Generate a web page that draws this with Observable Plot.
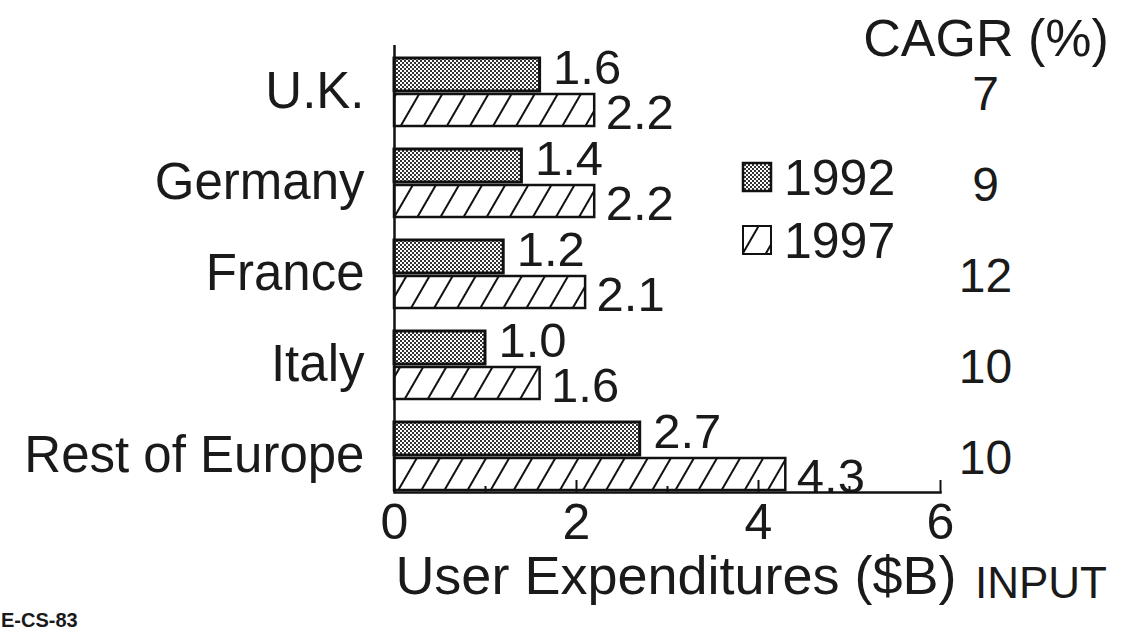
<!DOCTYPE html>
<html><head><meta charset="utf-8">
<script src="https://cdn.jsdelivr.net/npm/d3@7"></script>
<script src="https://cdn.jsdelivr.net/npm/@observablehq/plot@0.6"></script>
<style>
body{margin:0;background:#fff;}
#wrap{position:relative;width:1145px;height:633px;overflow:hidden;}
</style></head><body>
<svg width="0" height="0" style="position:absolute">
  <defs>
    <pattern id="dots" width="4" height="4" patternUnits="userSpaceOnUse">
      <rect width="4" height="4" fill="#fff"/>
      <rect width="2" height="2" fill="#333"/>
      <rect x="2" y="2" width="2" height="2" fill="#333"/>
    </pattern>
    <pattern id="hatch" width="20" height="20" patternUnits="userSpaceOnUse" patternTransform="rotate(30)">
      <rect width="20" height="20" fill="#fff"/>
      <line x1="10" y1="0" x2="10" y2="20" stroke="#111" stroke-width="2"/>
    </pattern>
  </defs>
</svg>
<div id="wrap"></div>
<script>
const countries = ["U.K.", "Germany", "France", "Italy", "Rest of Europe"];
const years = ["1992", "1997"];
const values1992 = [1.6, 1.4, 1.2, 1.0, 2.7];
const values1997 = [2.2, 2.2, 2.1, 1.6, 4.3];
const cagr = [7, 9, 12, 10, 10];
const xTicks = [0, 2, 4, 6];
const xMinorTicks = [1, 3, 5];
const xTitle = "User Expenditures ($B)";
const cagrTitle = "CAGR (%)";
const sourceText = "INPUT";
const codeText = "E-CS-83";

const FONT = '"Liberation Sans", Arial, Helvetica, sans-serif';
const INK = "#1a1a1a";

const rows1992 = countries.map((c, i) => ({country: c, year: years[0], value: values1992[i]}));
const rows1997 = countries.map((c, i) => ({country: c, year: years[1], value: values1997[i]}));
const cagrRows = countries.map((c, i) => ({country: c, cagr: cagr[i]}));

const W = 1145, H = 633, mL = 394, mR = 205, mT = 45, mB = 141;
const plotH = H - mT - mB;

const chart = Plot.plot({
  width: W, height: H,
  marginLeft: mL, marginRight: mR, marginTop: mT, marginBottom: mB,
  style: {fontFamily: FONT, color: INK, background: "transparent"},
  x: {domain: [0, 6]},
  y: {type: "band", domain: countries, range: [46, 501], padding: 0},
  marks: [
    Plot.barX(rows1992, {x: "value", y: "country", fill: "url(#dots)", stroke: "#111", strokeWidth: 3, insetTop: 12, insetBottom: 46}),
    Plot.barX(rows1997, {x: "value", y: "country", fill: "url(#hatch)", stroke: "#111", strokeWidth: 2.5, insetTop: 48, insetBottom: 11}),
    Plot.text(rows1992, {x: "value", y: "country", text: d => d.value.toFixed(1), textAnchor: "start", dx: 13, dy: -24, fontSize: 49, fill: INK}),
    Plot.text(rows1997, {x: "value", y: "country", text: d => d.value.toFixed(1), textAnchor: "start", dx: 11, dy: 21, fontSize: 49, fill: INK}),
    Plot.text(cagrRows, {y: "country", text: d => String(d.cagr), frameAnchor: "right", textAnchor: "middle", dx: 45, dy: 3, fontSize: 48, fill: INK}),
    Plot.ruleX([0], {stroke: "#111", strokeWidth: 2.5}),
    Plot.frame({anchor: "bottom", stroke: "#111", strokeWidth: 2.5}),
    Plot.tickX(xTicks, {x: d => d, stroke: "#111", strokeWidth: 2, insetTop: plotH - 12}),
    Plot.tickX(xMinorTicks, {x: d => d, stroke: "#111", strokeWidth: 2, insetTop: plotH - 6}),
    Plot.axisX({ticks: xTicks, tickSize: 0, tickPadding: 11, fontSize: 50, label: null, tickFormat: d => String(d)}),
    Plot.axisY({tickSize: 0, tickPadding: 30, fontSize: 51, label: null})
  ]
});

document.getElementById("wrap").appendChild(chart);

const svg = d3.select(chart);
function addText(str, x, y, size, anchor, weight) {
  svg.append("text").attr("x", x).attr("y", y).attr("font-size", size)
    .attr("text-anchor", anchor).attr("font-family", FONT).attr("fill", INK)
    .attr("font-weight", weight || "normal").text(str);
}
addText(cagrTitle, 986, 56, 52, "middle");
addText(xTitle, 676, 594, 54, "middle");
addText(sourceText, 975, 598, 44, "start");
addText(codeText, 1, 627, 20, "start", 600);

// legend
const legend = svg.append("g");
const legendItems = [{label: years[0], fill: "url(#dots)", sw: 2.5}, {label: years[1], fill: "url(#hatch)", sw: 2}];
legendItems.forEach((it, i) => {
  const cy = 177 + i * 63;
  legend.append("rect").attr("x", 743).attr("y", cy - 14).attr("width", 28).attr("height", 28)
    .attr("fill", it.fill).attr("stroke", "#111").attr("stroke-width", it.sw);
  legend.append("text").attr("x", 784).attr("y", cy + 18).attr("font-size", 50)
    .attr("text-anchor", "start").attr("font-family", FONT).attr("fill", INK).text(it.label);
});
</script>
</body></html>
